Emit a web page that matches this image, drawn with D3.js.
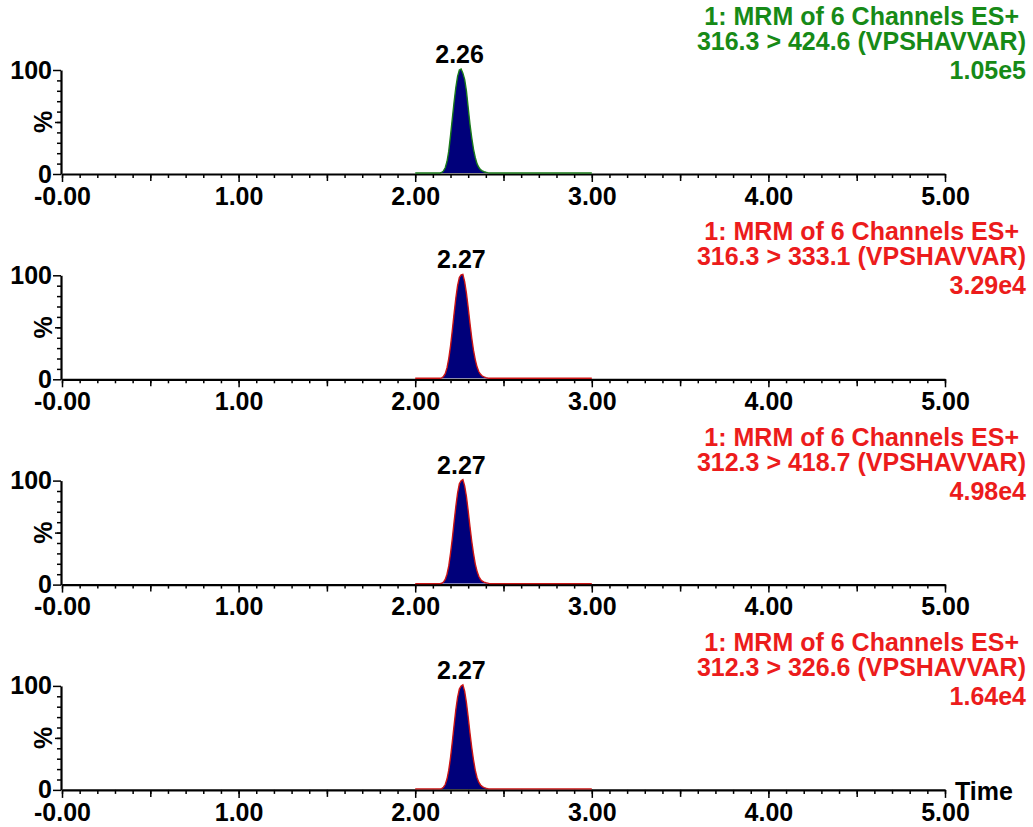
<!DOCTYPE html>
<html>
<head>
<meta charset="utf-8">
<script src="https://cdn.jsdelivr.net/npm/d3@7"></script>
<style>
  html, body { margin: 0; padding: 0; background: #fff; }
  svg { display: block; font-family: "Liberation Sans", Arial, sans-serif; font-weight: bold; }
</style>
</head>
<body>
<svg id="chart" width="1033" height="827"></svg>
<script>
/* MRM chromatograms, four channels stacked */

const titleLine1 = ['1: MRM of 6 Channels ES+', '1: MRM of 6 Channels ES+', '1: MRM of 6 Channels ES+', '1: MRM of 6 Channels ES+'];
const titleLine2 = ['316.3 > 424.6 (VPSHAVVAR)', '316.3 > 333.1 (VPSHAVVAR)', '312.3 > 418.7 (VPSHAVVAR)', '312.3 > 326.6 (VPSHAVVAR)'];
const maxCounts = ['1.05e5', '3.29e4', '4.98e4', '1.64e4'];
const peakTimes = [2.26, 2.27, 2.27, 2.27];
const peakLabels = ['2.26', '2.27', '2.27', '2.27'];

const xTicks = [0, 1, 2, 3, 4, 5];
const xTickLabels = ['-0.00', '1.00', '2.00', '3.00', '4.00', '5.00'];
const yTicks = [0, 100];
const yTickLabels = ['0', '100'];

// retention time (min) and relative intensity (%) of each trace
const times = [2.00, 2.14, 2.15, 2.16, 2.17, 2.18, 2.19, 2.20, 2.21, 2.22, 2.23, 2.24, 2.25, 2.26, 2.27,
  2.28, 2.29, 2.30, 2.31, 2.32, 2.33, 2.34, 2.35, 2.36, 2.37, 2.38, 2.39, 2.40, 2.41, 2.42, 3.00];
const trace1 = [0, 0, 0.5, 2, 5, 11, 21, 36, 52, 68, 82, 93, 99, 100, 96, 90, 79, 63, 47, 34, 23, 15, 9, 5.5, 3.2, 2, 1.2, 0.7, 0.3, 0, 0];
const trace2 = [0, 0, 0.4, 1.8, 4.5, 10, 19, 31, 46, 62, 77, 89, 97, 99.5, 100, 93, 82, 68, 53, 39, 27, 18, 11, 6.5, 3.8, 2.2, 1.3, 0.7, 0.3, 0, 0];
const trace3 = [0, 0, 0.3, 1.5, 4, 9, 17, 29, 43, 59, 74, 87, 96, 99, 100, 94, 84, 70, 55, 41, 29, 19, 12, 7, 4, 2.4, 1.4, 0.8, 0.4, 0, 0];
const trace4 = [0, 0, 0.3, 1.6, 4.2, 9.5, 18, 30, 45, 61, 76, 88, 96, 99, 100, 94, 83, 69, 54, 40, 28, 18, 11, 6.5, 3.8, 2.2, 1.3, 0.7, 0.3, 0, 0];
const traces = [trace1, trace2, trace3, trace4];

const GREEN = '#178a17';
const RED = '#ec1c1c';
const textColors = [GREEN, RED, RED, RED];
const lineColors = ['#1a7a1a', '#cc1414', '#cc1414', '#cc1414'];
const FILL = '#00007a';

const svg = d3.select('#chart');
const FS = 25;

const x = d3.scaleLinear().domain([0, 5]).range([62, 945]);

const axisY0 = 174;
const panelStep = 205.3;
const panelH = 104;

function panel(i) {
  const base = axisY0 + i * panelStep;
  const y = d3.scaleLinear().domain([0, 100]).range([base, base - panelH]);
  const g = svg.append('g');

  // minor x ticks
  g.append('g')
    .attr('transform', `translate(0,${base})`)
    .call(d3.axisBottom(x).tickValues(d3.range(0, 5.001, 0.1)).tickSize(4).tickSizeOuter(0).tickFormat(''))
    .call((s) => s.select('.domain').remove());
  g.append('g')
    .attr('transform', `translate(0,${base})`)
    .call(d3.axisBottom(x).tickValues(d3.range(0.5, 5, 1)).tickSize(7).tickSizeOuter(0).tickFormat(''))
    .call((s) => s.select('.domain').remove());

  // major x axis
  const xa = g.append('g')
    .attr('transform', `translate(0,${base})`)
    .call(d3.axisBottom(x).tickValues(xTicks).tickSize(8).tickSizeOuter(0).tickPadding(5)
      .tickFormat((d, k) => xTickLabels[k]));
  xa.select('.domain').attr('stroke-width', 2.2);

  // y axis
  g.append('g')
    .attr('transform', 'translate(61,0)')
    .call(d3.axisLeft(y).tickValues(d3.range(10, 100, 10)).tickSize(4).tickSizeOuter(0).tickFormat(''))
    .call((s) => s.select('.domain').remove());
  g.append('g')
    .attr('transform', 'translate(61,0)')
    .call(d3.axisLeft(y).tickValues([50]).tickSize(6).tickSizeOuter(0).tickFormat(''))
    .call((s) => s.select('.domain').remove());
  const ya = g.append('g')
    .attr('transform', 'translate(61,0)')
    .call(d3.axisLeft(y).tickValues(yTicks).tickSize(8).tickSizeOuter(0).tickPadding(1)
      .tickFormat((d, k) => yTickLabels[k]));
  ya.select('.domain').attr('stroke-width', 2.2);

  g.selectAll('.tick line').attr('stroke', '#000').attr('stroke-width', 1.5);
  g.selectAll('.tick text')
    .attr('fill', '#000')
    .style('font-size', FS + 'px')
    .style('font-family', '"Liberation Sans", Arial, sans-serif')
    .style('font-weight', 'bold');

  g.append('text')
    .attr('transform', `translate(52,${y(50)}) rotate(-90)`)
    .attr('text-anchor', 'middle')
    .attr('font-size', FS)
    .text('%');

  // trace
  const pts = times.map((t, k) => [t, traces[i][k]]);
  const area = d3.area()
    .x((d) => x(d[0]))
    .y0(y(0) - 1)
    .y1((d) => y(d[1]) - 1);
  const line = d3.line()
    .x((d) => x(d[0]))
    .y((d) => y(d[1]) - 1);
  g.append('path')
    .datum(pts)
    .attr('d', area)
    .attr('fill', FILL);
  g.append('path')
    .datum(pts)
    .attr('d', line)
    .attr('fill', 'none')
    .attr('stroke', lineColors[i])
    .attr('stroke-width', 1.4);

  g.append('text')
    .attr('x', x(peakTimes[i]) - 1.5)
    .attr('y', base - 111)
    .attr('text-anchor', 'middle')
    .attr('font-size', FS)
    .attr('fill', '#000')
    .text(peakLabels[i]);

  // channel header
  const off = i === 0 ? -10 : 0;
  const hdr = g.append('g').attr('fill', textColors[i]).attr('font-size', FS).attr('text-anchor', 'end');
  hdr.append('text').attr('x', 1019).attr('y', base - 139 + off).text(titleLine1[i]);
  hdr.append('text').attr('x', 1026).attr('y', base - 114 + off).text(titleLine2[i]);
  hdr.append('text').attr('x', 1026).attr('y', base - 85 + off).text(maxCounts[i]);

  return base;
}

let lastBase = 0;
for (let i = 0; i < traces.length; i++) lastBase = panel(i);

svg.append('text')
  .attr('x', 955)
  .attr('y', lastBase + 10)
  .attr('font-size', FS)
  .attr('fill', '#000')
  .text('Time');
</script>
</body>
</html>
